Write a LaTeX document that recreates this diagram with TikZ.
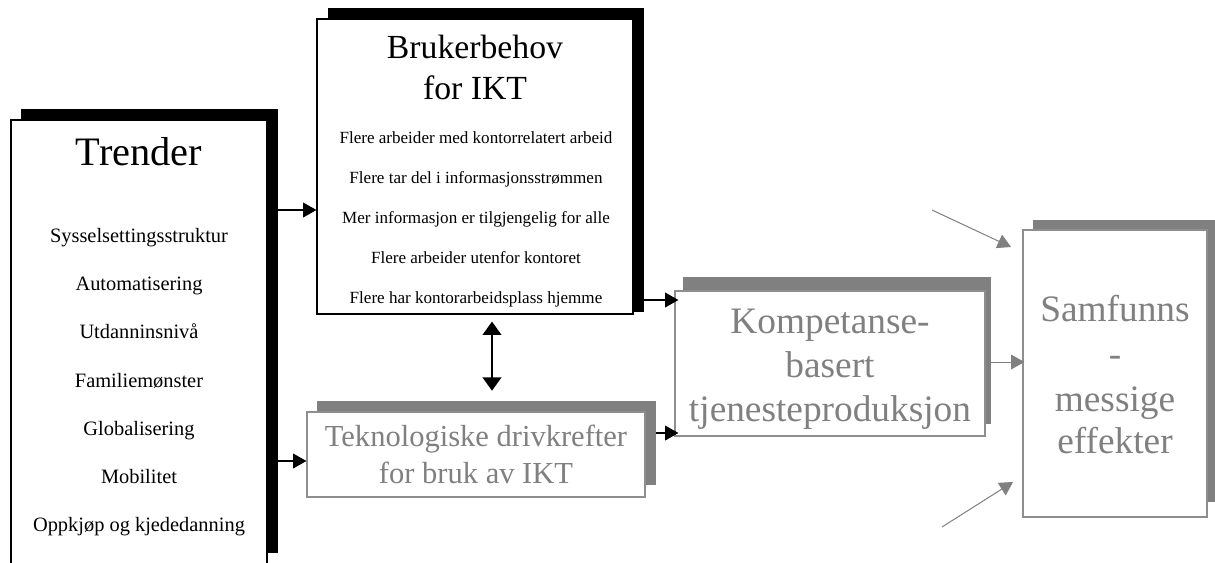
\documentclass[tikz,border=0pt]{standalone}
\usepackage{fontspec}
\setmainfont{Liberation Serif}
\usetikzlibrary{arrows.meta,fit}
\definecolor{shade}{HTML}{808080}
\definecolor{edgegray}{HTML}{8E8E8E}

\begin{document}
\begin{tikzpicture}[x=0.75pt,y=-0.75pt,
  frontbox/.style={draw=black, fill=white, inner sep=0pt, line width=0.8pt},
  softbox/.style={draw=edgegray, fill=white, inner sep=0pt, line width=0.8pt},
  darkshadow/.style={fill=black, draw=none, inner sep=0pt},
  softshadow/.style={fill=shade, draw=none, inner sep=0pt},
  trhead/.style={anchor=base, font=\fontsize{30.3}{36}\selectfont},
  tritem/.style={anchor=base, font=\fontsize{15.3}{18}\selectfont},
  brhead/.style={anchor=base, font=\fontsize{25.3}{30}\selectfont},
  britem/.style={anchor=base, font=\fontsize{12.8}{15}\selectfont},
  tektext/.style={anchor=base, text=shade, font=\fontsize{22.9}{27}\selectfont},
  bigtext/.style={anchor=base, text=shade, font=\fontsize{28}{33}\selectfont},
  link/.style={line width=1.1pt, -{Triangle[length=10pt,width=11pt]}},
  twoway/.style={line width=1.1pt, {Triangle[length=10pt,width=14pt]}-{Triangle[length=10pt,width=14pt]}},
  softlink/.style={draw=shade, line width=0.75pt, -{Triangle[length=10pt,width=11pt]}, shade}
]
\useasboundingbox (0,0) rectangle (1215,562);

% shadows
\node[darkshadow, fit={(21,109)(278,553)}] (trenderS) {};
\node[darkshadow, fit={(328,8)(644,312)}] (brukerS) {};
\node[softshadow, fit={(317,401)(656,485)}] (tekS) {};
\node[softshadow, fit={(683,277)(991,424)}] (kompS) {};
\node[softshadow, fit={(1033,220)(1220,502)}] (samfS) {};

% front boxes
\node[frontbox, fit={(11,120)(267,580)}] (trender) {};
\node[frontbox, fit={(317,19)(633,314)}] (bruker) {};
\node[softbox, fit={(307,412)(645,497)}] (tek) {};
\node[softbox, fit={(675,291)(985,436)}] (komp) {};
\node[softbox, fit={(1023,230)(1207,517)}] (samf) {};

% Trender
\node[trhead] (trT) at (139,165) {Trender};
\node[tritem] (tr1) at (139,242) {Sysselsettingsstruktur};
\node[tritem] (tr2) at (139,290) {Automatisering};
\node[tritem] (tr3) at (139,338.5) {Utdanninsnivå};
\node[tritem] (tr4) at (139,387) {Familiemønster};
\node[tritem] (tr5) at (139,435) {Globalisering};
\node[tritem] (tr6) at (139,483) {Mobilitet};
\node[tritem] (tr7) at (139,531) {Oppkjøp og kjededanning};

% Brukerbehov
\node[brhead] (brT1) at (475,58) {Brukerbehov};
\node[brhead] (brT2) at (475,99) {for IKT};
\node[britem] (br1) at (476,143) {Flere arbeider med kontorrelatert arbeid};
\node[britem] (br2) at (476,183) {Flere tar del i informasjonsstrømmen};
\node[britem] (br3) at (476,223) {Mer informasjon er tilgjengelig for alle};
\node[britem] (br4) at (476,263) {Flere arbeider utenfor kontoret};
\node[britem] (br5) at (476,303) {Flere har kontorarbeidsplass hjemme};

% Teknologiske drivkrefter
\node[tektext] (tk1) at (476,446) {Teknologiske drivkrefter};
\node[tektext] (tk2) at (476,483) {for bruk av IKT};

% Kompetansebasert tjenesteproduksjon
\node[bigtext] (kp1) at (830,333) {Kompetanse-};
\node[bigtext] (kp2) at (830,377) {basert};
\node[bigtext] (kp3) at (830,421) {tjenesteproduksjon};

% Samfunnsmessige effekter
\node[bigtext] (sf1) at (1115,321) {Samfunns};
\node[bigtext] (sf2) at (1115,366) {-};
\node[bigtext] (sf3) at (1115,411) {messige};
\node[bigtext] (sf4) at (1115,453) {effekter};

% connector levels
\coordinate (yA) at (0,210);
\coordinate (yB) at (0,461);
\coordinate (yC) at (0,300);
\coordinate (yD) at (0,433);
\coordinate (yE) at (0,362);
\coordinate (xV) at (492,0);
\coordinate (inHigh) at (932,210);
\coordinate (outHigh) at (1011,247);
\coordinate (inLow) at (942,527);
\coordinate (outLow) at (1013,482);

\draw[link] (trender.east |- yA) -- (bruker.west |- yA);
\draw[link] (trender.east |- yB) -- (tek.west |- yB);
\draw[twoway, shorten <=5.25pt, shorten >=7.5pt] (bruker.south -| xV) -- (tekS.north -| xV);
\draw[link, shorten >=-3pt] (brukerS.east |- yC) -- (komp.west |- yC);
\draw[link, shorten >=-3pt] (tekS.east |- yD) -- (komp.west |- yD);
\draw[softlink, shorten >=-1.5pt] (kompS.east |- yE) -- (samf.west |- yE);
\draw[softlink] (inHigh) -- (outHigh);
\draw[softlink] (inLow) -- (outLow);
\end{tikzpicture}
\end{document}
